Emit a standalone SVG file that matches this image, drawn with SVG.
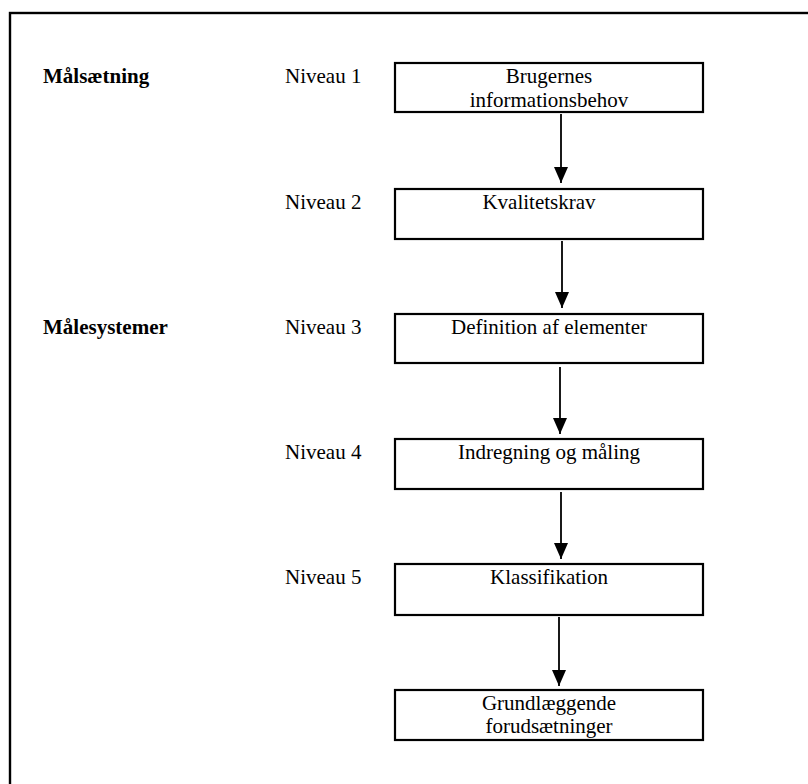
<svg xmlns="http://www.w3.org/2000/svg" width="808" height="784" viewBox="0 0 808 784">
  <defs>
    <marker id="arrowhead" markerUnits="userSpaceOnUse" markerWidth="16" markerHeight="14" refX="16" refY="7" orient="auto">
      <path d="M0,0 L16,7 L0,14 z" fill="#000"/>
    </marker>
    <style>
      .frame { fill: none; stroke: #000; stroke-width: 2.4; }
      .box { fill: #fff; stroke: #000; stroke-width: 2.2; }
      .lbl { font-family: "Liberation Serif", "Times New Roman", serif; font-size: 21px; fill: #000; }
      .hdr { font-family: "Liberation Serif", "Times New Roman", serif; font-size: 21px; font-weight: bold; fill: #000; }
      .ctr { text-anchor: middle; }
      .conn { stroke: #000; stroke-width: 1.8; fill: none; marker-end: url(#arrowhead); }
    </style>
  </defs>
  <rect width="808" height="784" fill="#fff"/>
  <!-- outer frame, running past the right and bottom edges -->
  <rect class="frame" x="10" y="13" width="820" height="800"/>

  <!-- section headings -->
  <g id="headings">
    <text class="hdr" x="43" y="83">Målsætning</text>
    <text class="hdr" x="43" y="334">Målesystemer</text>
  </g>

  <!-- level labels -->
  <g id="levels">
    <text class="lbl" x="285" y="83">Niveau 1</text>
    <text class="lbl" x="285" y="209">Niveau 2</text>
    <text class="lbl" x="285" y="334">Niveau 3</text>
    <text class="lbl" x="285" y="459">Niveau 4</text>
    <text class="lbl" x="285" y="584">Niveau 5</text>
  </g>

  <g id="connectors">
    <line class="conn" x1="561" y1="114" x2="561" y2="183"/>
    <line class="conn" x1="562" y1="241" x2="562" y2="308"/>
    <line class="conn" x1="560" y1="367" x2="560" y2="434"/>
    <line class="conn" x1="561" y1="492" x2="561" y2="559"/>
    <line class="conn" x1="559" y1="617" x2="559" y2="686"/>
  </g>

  <g id="node-brugernes">
    <rect class="box" x="395" y="63" width="308" height="49"/>
    <text class="lbl ctr" x="549" y="83">Brugernes</text>
    <text class="lbl ctr" x="549" y="107">informationsbehov</text>
  </g>

  <g id="node-kvalitetskrav">
    <rect class="box" x="395" y="189" width="308" height="50"/>
    <text class="lbl ctr" x="539" y="209">Kvalitetskrav</text>
  </g>

  <g id="node-definition">
    <rect class="box" x="395" y="314" width="308" height="49"/>
    <text class="lbl ctr" x="549" y="334">Definition af elementer</text>
  </g>

  <g id="node-indregning">
    <rect class="box" x="395" y="439" width="308" height="50"/>
    <text class="lbl ctr" x="549" y="459">Indregning og måling</text>
  </g>

  <g id="node-klassifikation">
    <rect class="box" x="395" y="564" width="308" height="51"/>
    <text class="lbl ctr" x="549" y="584">Klassifikation</text>
  </g>

  <g id="node-grundlaeggende">
    <rect class="box" x="395" y="690" width="308" height="50"/>
    <text class="lbl ctr" x="549" y="710">Grundlæggende</text>
    <text class="lbl ctr" x="549" y="733">forudsætninger</text>
  </g>
</svg>
